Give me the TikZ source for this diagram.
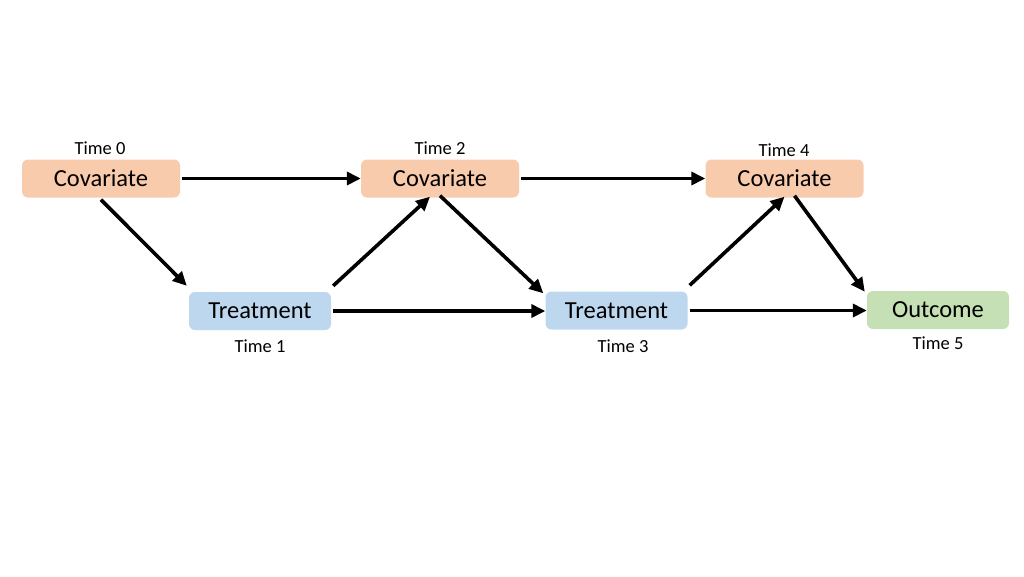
\documentclass[tikz,border=0pt]{standalone}
\usepackage{fontspec}
\setmainfont{Carlito}
\usepackage{tikz}
\usetikzlibrary{arrows.meta,positioning}
\definecolor{covorange}{RGB}{248,203,173}
\definecolor{treatblue}{RGB}{189,215,238}
\definecolor{outgreen}{RGB}{197,224,180}

\begin{document}
\begin{tikzpicture}[x=1pt, y=-1pt,
    box/.style={rounded corners=6pt, inner sep=0pt, minimum height=38pt, text depth=0pt, font=\fontsize{24.5}{28}\selectfont},
    covar/.style={box, fill=covorange, minimum width=158pt},
    treat/.style={box, fill=treatblue, minimum width=142pt},
    outc/.style={box, fill=outgreen, minimum width=142pt},
    timelbl/.style={font=\fontsize{18.5}{22}\selectfont, inner sep=0pt},
    arr/.style={-{Triangle[length=14pt,width=13pt]}, line width=3.6pt, black}]

    \path[use as bounding box] (0,0) rectangle (1024,576);

    % Covariates
    \node[covar] (c0) at (101,178.5) {Covariate};
    \node[covar] (c2) at (440,178.5) {Covariate};
    \node[covar] (c4) at (784.5,178.5) {Covariate};

    % Treatments
    \node[treat] (t1) at (260,311) {Treatment};
    \node[treat] (t3) at (616.5,310.5) {Treatment};

    % Outcome
    \node[outc] (y5) at (938,310) {Outcome};

    % Time labels
    \node[timelbl] (l0) at (100,148) {Time 0};
    \node[timelbl] (l2) at (440,148) {Time 2};
    \node[timelbl] (l4) at (784,150) {Time 4};
    \node[timelbl] (l1) at (260,346) {Time 1};
    \node[timelbl] (l3) at (623,346) {Time 3};
    \node[timelbl] (l5) at (938,343) {Time 5};

    % Arrows
    \draw[arr] (c0.east) ++(2,0) -- (c2.west);
    \draw[arr] (c2.east) ++(2,0) -- (c4.west);
    \draw[arr] (c0.south) ++(0,2) -- ([xshift=-2pt,yshift=6pt]t1.north west);
    \draw[arr] ([xshift=2pt,yshift=6pt]t1.north east) -- ([xshift=-10pt,yshift=1pt]c2.south);
    \draw[arr] ([xshift=2pt]t1.east) -- (t1.east -| t3.west);
    \draw[arr] ([yshift=2pt]c2.south) -- ([xshift=-2pt,yshift=-2pt]t3.north west);
    \draw[arr] ([xshift=2pt,yshift=6pt]t3.north east) -- ([xshift=0pt,yshift=1pt]c4.south);
    \draw[arr] ([xshift=10pt,yshift=2pt]c4.south) -- ([xshift=-2pt,yshift=-1pt]y5.north west);
    \draw[arr] ([xshift=2pt]t3.east) -- (t3.east -| y5.west);
\end{tikzpicture}
\end{document}
